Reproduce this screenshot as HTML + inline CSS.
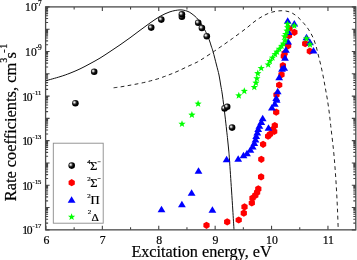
<!DOCTYPE html><html><head><meta charset="utf-8"><style>html,body{margin:0;padding:0;background:#fff;}svg{display:block;will-change:transform;}text{font-family:"Liberation Serif",serif;fill:#000;stroke:#000;stroke-width:0.2px;}</style></head><body>
<svg width="357" height="260" viewBox="0 0 357 260">
<defs><radialGradient id="bg" cx="0.4" cy="0.4" r="0.62" fx="0.33" fy="0.36"><stop offset="0" stop-color="#fff"/><stop offset="0.16" stop-color="#d0d0d0"/><stop offset="0.45" stop-color="#2a2a2a"/><stop offset="0.7" stop-color="#000"/></radialGradient></defs>
<path d="M45.95 229.85V225.85M45.95 6.9V10.9M102.35 229.85V225.85M102.35 6.9V10.9M158.75 229.85V225.85M158.75 6.9V10.9M215.15 229.85V225.85M215.15 6.9V10.9M271.55 229.85V225.85M271.55 6.9V10.9M327.95 229.85V225.85M327.95 6.9V10.9M74.15 229.85V227.35M74.15 6.9V9.4M130.55 229.85V227.35M130.55 6.9V9.4M186.95 229.85V227.35M186.95 6.9V9.4M243.35 229.85V227.35M243.35 6.9V9.4M299.75 229.85V227.35M299.75 6.9V9.4M45.6 6.90H49.6M355.8 6.90H351.8M45.6 22.48H48.1M355.8 22.48H353.3M45.6 18.56H48.1M355.8 18.56H353.3M45.6 15.77H48.1M355.8 15.77H353.3M45.6 13.61H48.1M355.8 13.61H353.3M45.6 11.85H48.1M355.8 11.85H353.3M45.6 10.35H48.1M355.8 10.35H353.3M45.6 9.06H48.1M355.8 9.06H353.3M45.6 7.92H48.1M355.8 7.92H353.3M45.6 29.20H49.6M355.8 29.20H351.8M45.6 44.78H48.1M355.8 44.78H353.3M45.6 40.85H48.1M355.8 40.85H353.3M45.6 38.07H48.1M355.8 38.07H353.3M45.6 35.91H48.1M355.8 35.91H353.3M45.6 34.14H48.1M355.8 34.14H353.3M45.6 32.65H48.1M355.8 32.65H353.3M45.6 31.36H48.1M355.8 31.36H353.3M45.6 30.22H48.1M355.8 30.22H353.3M45.6 51.49H49.6M355.8 51.49H351.8M45.6 67.07H48.1M355.8 67.07H353.3M45.6 63.15H48.1M355.8 63.15H353.3M45.6 60.36H48.1M355.8 60.36H353.3M45.6 58.20H48.1M355.8 58.20H353.3M45.6 56.44H48.1M355.8 56.44H353.3M45.6 54.94H48.1M355.8 54.94H353.3M45.6 53.65H48.1M355.8 53.65H353.3M45.6 52.51H48.1M355.8 52.51H353.3M45.6 73.78H49.6M355.8 73.78H351.8M45.6 89.37H48.1M355.8 89.37H353.3M45.6 85.44H48.1M355.8 85.44H353.3M45.6 82.66H48.1M355.8 82.66H353.3M45.6 80.50H48.1M355.8 80.50H353.3M45.6 78.73H48.1M355.8 78.73H353.3M45.6 77.24H48.1M355.8 77.24H353.3M45.6 75.95H48.1M355.8 75.95H353.3M45.6 74.81H48.1M355.8 74.81H353.3M45.6 96.08H49.6M355.8 96.08H351.8M45.6 111.66H48.1M355.8 111.66H353.3M45.6 107.74H48.1M355.8 107.74H353.3M45.6 104.95H48.1M355.8 104.95H353.3M45.6 102.79H48.1M355.8 102.79H353.3M45.6 101.03H48.1M355.8 101.03H353.3M45.6 99.53H48.1M355.8 99.53H353.3M45.6 98.24H48.1M355.8 98.24H353.3M45.6 97.10H48.1M355.8 97.10H353.3M45.6 118.38H49.6M355.8 118.38H351.8M45.6 133.96H48.1M355.8 133.96H353.3M45.6 130.03H48.1M355.8 130.03H353.3M45.6 127.25H48.1M355.8 127.25H353.3M45.6 125.09H48.1M355.8 125.09H353.3M45.6 123.32H48.1M355.8 123.32H353.3M45.6 121.83H48.1M355.8 121.83H353.3M45.6 120.54H48.1M355.8 120.54H353.3M45.6 119.40H48.1M355.8 119.40H353.3M45.6 140.67H49.6M355.8 140.67H351.8M45.6 156.25H48.1M355.8 156.25H353.3M45.6 152.33H48.1M355.8 152.33H353.3M45.6 149.54H48.1M355.8 149.54H353.3M45.6 147.38H48.1M355.8 147.38H353.3M45.6 145.62H48.1M355.8 145.62H353.3M45.6 144.12H48.1M355.8 144.12H353.3M45.6 142.83H48.1M355.8 142.83H353.3M45.6 141.69H48.1M355.8 141.69H353.3M45.6 162.97H49.6M355.8 162.97H351.8M45.6 178.55H48.1M355.8 178.55H353.3M45.6 174.62H48.1M355.8 174.62H353.3M45.6 171.84H48.1M355.8 171.84H353.3M45.6 169.68H48.1M355.8 169.68H353.3M45.6 167.91H48.1M355.8 167.91H353.3M45.6 166.42H48.1M355.8 166.42H353.3M45.6 165.13H48.1M355.8 165.13H353.3M45.6 163.99H48.1M355.8 163.99H353.3M45.6 185.26H49.6M355.8 185.26H351.8M45.6 200.84H48.1M355.8 200.84H353.3M45.6 196.92H48.1M355.8 196.92H353.3M45.6 194.13H48.1M355.8 194.13H353.3M45.6 191.97H48.1M355.8 191.97H353.3M45.6 190.21H48.1M355.8 190.21H353.3M45.6 188.71H48.1M355.8 188.71H353.3M45.6 187.42H48.1M355.8 187.42H353.3M45.6 186.28H48.1M355.8 186.28H353.3M45.6 207.55H49.6M355.8 207.55H351.8M45.6 223.14H48.1M355.8 223.14H353.3M45.6 219.21H48.1M355.8 219.21H353.3M45.6 216.43H48.1M355.8 216.43H353.3M45.6 214.27H48.1M355.8 214.27H353.3M45.6 212.50H48.1M355.8 212.50H353.3M45.6 211.01H48.1M355.8 211.01H353.3M45.6 209.72H48.1M355.8 209.72H353.3M45.6 208.58H48.1M355.8 208.58H353.3M45.6 229.85H49.6M355.8 229.85H351.8" stroke="#444" stroke-width="1.1" fill="none"/>
<path d="M45.90 80.70C48.25 80.03 55.98 77.95 60.00 76.70C64.02 75.45 66.67 74.50 70.00 73.20C73.33 71.90 76.67 70.48 80.00 68.90C83.33 67.32 86.67 65.50 90.00 63.70C93.33 61.90 96.67 60.12 100.00 58.10C103.33 56.08 106.67 53.80 110.00 51.60C113.33 49.40 116.67 47.20 120.00 44.90C123.33 42.60 126.67 40.23 130.00 37.80C133.33 35.37 136.67 32.77 140.00 30.30C143.33 27.83 146.67 25.32 150.00 23.00C153.33 20.68 156.67 18.27 160.00 16.40C163.33 14.53 166.67 12.88 170.00 11.80C173.33 10.72 177.17 10.02 180.00 9.90C182.83 9.78 185.17 10.55 187.00 11.10C188.83 11.65 189.67 12.33 191.00 13.20C192.33 14.07 193.83 15.27 195.00 16.30C196.17 17.33 197.00 18.22 198.00 19.40C199.00 20.58 199.75 21.42 201.00 23.40C202.25 25.38 204.13 28.57 205.50 31.30C206.87 34.03 208.25 37.35 209.20 39.80C210.15 42.25 210.55 44.00 211.20 46.00C211.85 48.00 212.22 48.63 213.10 51.80C213.98 54.97 215.52 61.13 216.50 65.00C217.48 68.87 218.30 71.67 219.00 75.00C219.70 78.33 220.13 81.67 220.70 85.00C221.27 88.33 221.70 90.00 222.40 95.00C223.10 100.00 224.20 109.17 224.90 115.00C225.60 120.83 226.13 125.83 226.60 130.00C227.07 134.17 227.35 136.67 227.70 140.00C228.05 143.33 228.40 146.67 228.70 150.00C229.00 153.33 229.03 153.33 229.50 160.00C229.97 166.67 230.95 181.67 231.50 190.00C232.05 198.33 232.38 203.36 232.80 210.00C233.22 216.64 233.80 226.54 234.00 229.85" stroke="#111" stroke-width="1" fill="none"/>
<path d="M113.60 87.80C114.75 87.65 118.20 87.25 120.50 86.90C122.80 86.55 125.05 86.12 127.40 85.70C129.75 85.28 131.97 84.90 134.60 84.40C137.23 83.90 140.57 83.28 143.20 82.70C145.83 82.12 148.05 81.52 150.40 80.90C152.75 80.28 155.00 79.72 157.30 79.00C159.60 78.28 161.90 77.43 164.20 76.60C166.50 75.77 168.80 74.92 171.10 74.00C173.40 73.08 175.35 72.30 178.00 71.10C180.65 69.90 183.78 68.32 187.00 66.80C190.22 65.28 194.30 63.58 197.30 62.00C200.30 60.42 202.40 58.95 205.00 57.30C207.60 55.65 210.65 53.60 212.90 52.10C215.15 50.60 215.27 50.55 218.50 48.30C221.73 46.05 227.70 41.92 232.30 38.60C236.90 35.28 242.32 31.30 246.10 28.40C249.88 25.50 252.12 23.30 255.00 21.20C257.88 19.10 260.60 17.30 263.40 15.80C266.20 14.30 268.72 13.05 271.80 12.20C274.88 11.35 278.82 10.70 281.90 10.70C284.98 10.70 287.78 11.25 290.30 12.20C292.82 13.15 294.77 14.57 297.00 16.40C299.23 18.23 301.73 20.95 303.70 23.20C305.67 25.45 307.25 27.52 308.80 29.90C310.35 32.28 311.80 34.82 313.00 37.50C314.20 40.18 315.08 42.92 316.00 46.00C316.92 49.08 317.67 52.67 318.50 56.00C319.33 59.33 320.17 62.33 321.00 66.00C321.83 69.67 322.75 74.17 323.50 78.00C324.25 81.83 324.85 85.38 325.50 89.00C326.15 92.62 326.75 95.57 327.40 99.70C328.05 103.83 328.82 109.20 329.40 113.80C329.98 118.40 330.22 121.27 330.90 127.30C331.58 133.33 332.78 142.88 333.50 150.00C334.22 157.12 334.70 163.33 335.20 170.00C335.70 176.67 336.12 183.33 336.50 190.00C336.88 196.67 337.22 203.50 337.50 210.00C337.78 216.50 338.08 225.83 338.20 229.00" stroke="#222" stroke-width="1" fill="none" stroke-dasharray="3.8 3.3"/>
<circle cx="75.4" cy="103.2" r="3.3" fill="url(#bg)"/>
<circle cx="94.2" cy="71.8" r="3.3" fill="url(#bg)"/>
<circle cx="151.2" cy="27.6" r="3.3" fill="url(#bg)"/>
<circle cx="161.3" cy="19.6" r="3.3" fill="url(#bg)"/>
<circle cx="181.9" cy="16.8" r="3.3" fill="url(#bg)"/>
<circle cx="181.9" cy="14.3" r="3.3" fill="url(#bg)"/>
<circle cx="198.2" cy="22.7" r="3.3" fill="url(#bg)"/>
<circle cx="201.9" cy="28" r="3.3" fill="url(#bg)"/>
<circle cx="206.8" cy="36.2" r="3.3" fill="url(#bg)"/>
<circle cx="224.6" cy="108.4" r="3.3" fill="url(#bg)"/>
<circle cx="227.2" cy="106.8" r="3.3" fill="url(#bg)"/>
<circle cx="232.1" cy="127.6" r="3.3" fill="url(#bg)"/>
<polygon points="206.50,228.90 203.38,227.10 203.38,223.50 206.50,221.70 209.62,223.50 209.62,227.10" fill="#f00"/>
<polygon points="227.20,225.50 224.08,223.70 224.08,220.10 227.20,218.30 230.32,220.10 230.32,223.70" fill="#f00"/>
<polygon points="238.70,223.60 235.58,221.80 235.58,218.20 238.70,216.40 241.82,218.20 241.82,221.80" fill="#f00"/>
<polygon points="243.80,216.70 240.68,214.90 240.68,211.30 243.80,209.50 246.92,211.30 246.92,214.90" fill="#f00"/>
<polygon points="244.50,210.50 241.38,208.70 241.38,205.10 244.50,203.30 247.62,205.10 247.62,208.70" fill="#f00"/>
<polygon points="251.80,206.60 248.68,204.80 248.68,201.20 251.80,199.40 254.92,201.20 254.92,204.80" fill="#f00"/>
<polygon points="252.50,201.70 249.38,199.90 249.38,196.30 252.50,194.50 255.62,196.30 255.62,199.90" fill="#f00"/>
<polygon points="255.30,199.00 252.18,197.20 252.18,193.60 255.30,191.80 258.42,193.60 258.42,197.20" fill="#f00"/>
<polygon points="257.10,196.00 253.98,194.20 253.98,190.60 257.10,188.80 260.22,190.60 260.22,194.20" fill="#f00"/>
<polygon points="258.30,192.50 255.18,190.70 255.18,187.10 258.30,185.30 261.42,187.10 261.42,190.70" fill="#f00"/>
<polygon points="261.10,180.50 257.98,178.70 257.98,175.10 261.10,173.30 264.22,175.10 264.22,178.70" fill="#f00"/>
<polygon points="261.30,162.90 258.18,161.10 258.18,157.50 261.30,155.70 264.42,157.50 264.42,161.10" fill="#f00"/>
<polygon points="263.10,147.90 259.98,146.10 259.98,142.50 263.10,140.70 266.22,142.50 266.22,146.10" fill="#f00"/>
<polygon points="268.10,139.80 264.98,138.00 264.98,134.40 268.10,132.60 271.22,134.40 271.22,138.00" fill="#f00"/>
<polygon points="270.00,137.80 266.88,136.00 266.88,132.40 270.00,130.60 273.12,132.40 273.12,136.00" fill="#f00"/>
<polygon points="272.90,133.00 269.78,131.20 269.78,127.60 272.90,125.80 276.02,127.60 276.02,131.20" fill="#f00"/>
<polygon points="274.20,135.10 271.08,133.30 271.08,129.70 274.20,127.90 277.32,129.70 277.32,133.30" fill="#f00"/>
<polygon points="274.80,129.20 271.68,127.40 271.68,123.80 274.80,122.00 277.92,123.80 277.92,127.40" fill="#f00"/>
<polygon points="276.20,115.70 273.08,113.90 273.08,110.30 276.20,108.50 279.32,110.30 279.32,113.90" fill="#f00"/>
<polygon points="276.50,98.40 273.38,96.60 273.38,93.00 276.50,91.20 279.62,93.00 279.62,96.60" fill="#f00"/>
<polygon points="279.20,88.60 276.08,86.80 276.08,83.20 279.20,81.40 282.32,83.20 282.32,86.80" fill="#f00"/>
<polygon points="281.50,78.20 278.38,76.40 278.38,72.80 281.50,71.00 284.62,72.80 284.62,76.40" fill="#f00"/>
<polygon points="282.90,69.20 279.78,67.40 279.78,63.80 282.90,62.00 286.02,63.80 286.02,67.40" fill="#f00"/>
<polygon points="283.80,59.80 280.68,58.00 280.68,54.40 283.80,52.60 286.92,54.40 286.92,58.00" fill="#f00"/>
<polygon points="284.60,56.90 281.48,55.10 281.48,51.50 284.60,49.70 287.72,51.50 287.72,55.10" fill="#f00"/>
<polygon points="288.10,49.40 284.98,47.60 284.98,44.00 288.10,42.20 291.22,44.00 291.22,47.60" fill="#f00"/>
<polygon points="289.00,39.30 285.88,37.50 285.88,33.90 289.00,32.10 292.12,33.90 292.12,37.50" fill="#f00"/>
<polygon points="289.50,32.10 286.38,30.30 286.38,26.70 289.50,24.90 292.62,26.70 292.62,30.30" fill="#f00"/>
<polygon points="294.40,35.90 291.28,34.10 291.28,30.50 294.40,28.70 297.52,30.50 297.52,34.10" fill="#f00"/>
<polygon points="305.20,47.20 302.08,45.40 302.08,41.80 305.20,40.00 308.32,41.80 308.32,45.40" fill="#f00"/>
<polygon points="309.80,54.80 306.68,53.00 306.68,49.40 309.80,47.60 312.92,49.40 312.92,53.00" fill="#f00"/>
<polygon points="161.50,205.85 165.40,212.35 157.60,212.35" fill="#00f"/>
<polygon points="181.90,200.75 185.80,207.25 178.00,207.25" fill="#00f"/>
<polygon points="191.60,189.25 195.50,195.75 187.70,195.75" fill="#00f"/>
<polygon points="198.50,167.25 202.40,173.75 194.60,173.75" fill="#00f"/>
<polygon points="212.40,206.35 216.30,212.85 208.50,212.85" fill="#00f"/>
<polygon points="226.60,155.75 230.50,162.25 222.70,162.25" fill="#00f"/>
<polygon points="238.20,155.35 242.10,161.85 234.30,161.85" fill="#00f"/>
<polygon points="243.50,151.75 247.40,158.25 239.60,158.25" fill="#00f"/>
<polygon points="247.00,149.85 250.90,156.35 243.10,156.35" fill="#00f"/>
<polygon points="250.40,146.35 254.30,152.85 246.50,152.85" fill="#00f"/>
<polygon points="252.70,142.95 256.60,149.45 248.80,149.45" fill="#00f"/>
<polygon points="254.30,139.45 258.20,145.95 250.40,145.95" fill="#00f"/>
<polygon points="255.50,135.95 259.40,142.45 251.60,142.45" fill="#00f"/>
<polygon points="256.20,132.55 260.10,139.05 252.30,139.05" fill="#00f"/>
<polygon points="257.30,129.05 261.20,135.55 253.40,135.55" fill="#00f"/>
<polygon points="258.20,125.55 262.10,132.05 254.30,132.05" fill="#00f"/>
<polygon points="259.40,122.35 263.30,128.85 255.50,128.85" fill="#00f"/>
<polygon points="261.30,118.45 265.20,124.95 257.40,124.95" fill="#00f"/>
<polygon points="262.70,114.65 266.60,121.15 258.80,121.15" fill="#00f"/>
<polygon points="268.50,124.25 272.40,130.75 264.60,130.75" fill="#00f"/>
<polygon points="271.90,104.05 275.80,110.55 268.00,110.55" fill="#00f"/>
<polygon points="274.80,100.25 278.70,106.75 270.90,106.75" fill="#00f"/>
<polygon points="276.70,96.35 280.60,102.85 272.80,102.85" fill="#00f"/>
<polygon points="276.20,94.45 280.10,100.95 272.30,100.95" fill="#00f"/>
<polygon points="277.70,87.75 281.60,94.25 273.80,94.25" fill="#00f"/>
<polygon points="279.20,73.65 283.10,80.15 275.30,80.15" fill="#00f"/>
<polygon points="282.00,65.35 285.90,71.85 278.10,71.85" fill="#00f"/>
<polygon points="284.20,64.35 288.10,70.85 280.30,70.85" fill="#00f"/>
<polygon points="285.00,54.25 288.90,60.75 281.10,60.75" fill="#00f"/>
<polygon points="285.90,46.35 289.80,52.85 282.00,52.85" fill="#00f"/>
<polygon points="288.10,37.95 292.00,44.45 284.20,44.45" fill="#00f"/>
<polygon points="288.60,28.55 292.50,35.05 284.70,35.05" fill="#00f"/>
<polygon points="287.70,17.25 291.60,23.75 283.80,23.75" fill="#00f"/>
<polygon points="294.30,19.95 298.20,26.45 290.40,26.45" fill="#00f"/>
<polygon points="306.50,33.75 310.40,40.25 302.60,40.25" fill="#00f"/>
<polygon points="310.00,38.75 313.90,45.25 306.10,45.25" fill="#00f"/>
<polygon points="313.50,47.05 317.40,53.55 309.60,53.55" fill="#00f"/>
<polygon points="182.00,120.20 182.94,122.71 185.61,122.83 183.52,124.49 184.23,127.07 182.00,125.60 179.77,127.07 180.48,124.49 178.39,122.83 181.06,122.71" fill="#0f0"/>
<polygon points="191.90,111.10 192.84,113.61 195.51,113.73 193.42,115.39 194.13,117.97 191.90,116.50 189.67,117.97 190.38,115.39 188.29,113.73 190.96,113.61" fill="#0f0"/>
<polygon points="198.10,100.00 199.04,102.51 201.71,102.63 199.62,104.29 200.33,106.87 198.10,105.40 195.87,106.87 196.58,104.29 194.49,102.63 197.16,102.51" fill="#0f0"/>
<polygon points="238.80,91.80 239.74,94.31 242.41,94.43 240.32,96.09 241.03,98.67 238.80,97.20 236.57,98.67 237.28,96.09 235.19,94.43 237.86,94.31" fill="#0f0"/>
<polygon points="244.30,87.30 245.24,89.81 247.91,89.93 245.82,91.59 246.53,94.17 244.30,92.70 242.07,94.17 242.78,91.59 240.69,89.93 243.36,89.81" fill="#0f0"/>
<polygon points="254.30,83.40 255.24,85.91 257.91,86.03 255.82,87.69 256.53,90.27 254.30,88.80 252.07,90.27 252.78,87.69 250.69,86.03 253.36,85.91" fill="#0f0"/>
<polygon points="256.00,79.10 256.94,81.61 259.61,81.73 257.52,83.39 258.23,85.97 256.00,84.50 253.77,85.97 254.48,83.39 252.39,81.73 255.06,81.61" fill="#0f0"/>
<polygon points="256.90,74.70 257.84,77.21 260.51,77.33 258.42,78.99 259.13,81.57 256.90,80.10 254.67,81.57 255.38,78.99 253.29,77.33 255.96,77.21" fill="#0f0"/>
<polygon points="257.80,69.60 258.74,72.11 261.41,72.23 259.32,73.89 260.03,76.47 257.80,75.00 255.57,76.47 256.28,73.89 254.19,72.23 256.86,72.11" fill="#0f0"/>
<polygon points="261.20,64.40 262.14,66.91 264.81,67.03 262.72,68.69 263.43,71.27 261.20,69.80 258.97,71.27 259.68,68.69 257.59,67.03 260.26,66.91" fill="#0f0"/>
<polygon points="268.20,60.90 269.14,63.41 271.81,63.53 269.72,65.19 270.43,67.77 268.20,66.30 265.97,67.77 266.68,65.19 264.59,63.53 267.26,63.41" fill="#0f0"/>
<polygon points="269.90,57.40 270.84,59.91 273.51,60.03 271.42,61.69 272.13,64.27 269.90,62.80 267.67,64.27 268.38,61.69 266.29,60.03 268.96,59.91" fill="#0f0"/>
<polygon points="272.50,54.00 273.44,56.51 276.11,56.63 274.02,58.29 274.73,60.87 272.50,59.40 270.27,60.87 270.98,58.29 268.89,56.63 271.56,56.51" fill="#0f0"/>
<polygon points="275.10,50.50 276.04,53.01 278.71,53.13 276.62,54.79 277.33,57.37 275.10,55.90 272.87,57.37 273.58,54.79 271.49,53.13 274.16,53.01" fill="#0f0"/>
<polygon points="277.00,48.10 277.94,50.61 280.61,50.73 278.52,52.39 279.23,54.97 277.00,53.50 274.77,54.97 275.48,52.39 273.39,50.73 276.06,50.61" fill="#0f0"/>
<polygon points="279.30,45.20 280.24,47.71 282.91,47.83 280.82,49.49 281.53,52.07 279.30,50.60 277.07,52.07 277.78,49.49 275.69,47.83 278.36,47.71" fill="#0f0"/>
<polygon points="281.60,42.30 282.54,44.81 285.21,44.93 283.12,46.59 283.83,49.17 281.60,47.70 279.37,49.17 280.08,46.59 277.99,44.93 280.66,44.81" fill="#0f0"/>
<polygon points="283.30,40.00 284.24,42.51 286.91,42.63 284.82,44.29 285.53,46.87 283.30,45.40 281.07,46.87 281.78,44.29 279.69,42.63 282.36,42.51" fill="#0f0"/>
<polygon points="285.10,36.70 286.04,39.21 288.71,39.33 286.62,40.99 287.33,43.57 285.10,42.10 282.87,43.57 283.58,40.99 281.49,39.33 284.16,39.21" fill="#0f0"/>
<polygon points="284.60,32.80 285.54,35.31 288.21,35.43 286.12,37.09 286.83,39.67 284.60,38.20 282.37,39.67 283.08,37.09 280.99,35.43 283.66,35.31" fill="#0f0"/>
<polygon points="285.70,30.40 286.64,32.91 289.31,33.03 287.22,34.69 287.93,37.27 285.70,35.80 283.47,37.27 284.18,34.69 282.09,33.03 284.76,32.91" fill="#0f0"/>
<polygon points="287.00,27.10 287.94,29.61 290.61,29.73 288.52,31.39 289.23,33.97 287.00,32.50 284.77,33.97 285.48,31.39 283.39,29.73 286.06,29.61" fill="#0f0"/>
<polygon points="287.60,23.70 288.54,26.21 291.21,26.33 289.12,27.99 289.83,30.57 287.60,29.10 285.37,30.57 286.08,27.99 283.99,26.33 286.66,26.21" fill="#0f0"/>
<polygon points="287.60,20.30 288.54,22.81 291.21,22.93 289.12,24.59 289.83,27.17 287.60,25.70 285.37,27.17 286.08,24.59 283.99,22.93 286.66,22.81" fill="#0f0"/>
<polygon points="294.30,22.00 295.24,24.51 297.91,24.63 295.82,26.29 296.53,28.87 294.30,27.40 292.07,28.87 292.78,26.29 290.69,24.63 293.36,24.51" fill="#0f0"/>
<polygon points="306.50,34.80 307.44,37.31 310.11,37.43 308.02,39.09 308.73,41.67 306.50,40.20 304.27,41.67 304.98,39.09 302.89,37.43 305.56,37.31" fill="#0f0"/>
<polygon points="310.00,40.80 310.94,43.31 313.61,43.43 311.52,45.09 312.23,47.67 310.00,46.20 307.77,47.67 308.48,45.09 306.39,43.43 309.06,43.31" fill="#0f0"/>
<rect x="45.6" y="6.9" width="310.20" height="222.95" fill="none" stroke="#4a4a4a" stroke-width="1.3"/>
<rect x="53.3" y="143.2" width="49.9" height="80.0" fill="#fff" stroke="#8a8a8a" stroke-width="0.9"/>
<circle cx="71.7" cy="165.6" r="3.3" fill="url(#bg)"/>
<polygon points="71.70,186.30 68.58,184.50 68.58,180.90 71.70,179.10 74.82,180.90 74.82,184.50" fill="#f00"/>
<polygon points="71.60,196.25 75.50,202.75 67.70,202.75" fill="#00f"/>
<polygon points="71.60,213.20 72.54,215.71 75.21,215.83 73.12,217.49 73.83,220.07 71.60,218.60 69.37,220.07 70.08,217.49 67.99,215.83 70.66,215.71" fill="#0f0"/>
<text x="88.9" y="164.10" font-size="6.9" text-anchor="middle">4</text><text x="90.0" y="170.0" font-size="12.6">Σ</text><rect x="97.6" y="161.40" width="3.0" height="0.75" fill="#333"/>
<text x="88.9" y="180.80" font-size="6.9" text-anchor="middle">2</text><text x="90.3" y="186.7" font-size="12.6">Σ</text><rect x="97.6" y="178.10" width="3.0" height="0.75" fill="#333"/>
<text x="88.9" y="198.30" font-size="6.9" text-anchor="middle">2</text><text x="90.5" y="204.2" font-size="12.6">Π</text>
<text x="89.4" y="214.00" font-size="6.9" text-anchor="middle">2</text><text x="91.4" y="221.0" font-size="11.4">Δ</text>
<text x="46.35" y="243.5" font-size="11.8" text-anchor="middle">6</text>
<text x="102.75" y="243.5" font-size="11.8" text-anchor="middle">7</text>
<text x="159.15" y="243.5" font-size="11.8" text-anchor="middle">8</text>
<text x="215.55" y="243.5" font-size="11.8" text-anchor="middle">9</text>
<text x="271.95" y="243.5" font-size="11.8" text-anchor="middle">10</text>
<text x="328.35" y="243.5" font-size="11.8" text-anchor="middle">11</text>
<text x="27.8" y="11.40" font-size="11.6" text-anchor="middle">1</text>
<text x="33.8" y="11.40" font-size="11.6" text-anchor="middle">0</text>
<text x="37.0" y="5.50" font-size="7.4" text-anchor="middle">-</text>
<text x="39.9" y="5.50" font-size="7.4" text-anchor="middle">7</text>
<text x="27.8" y="55.99" font-size="11.6" text-anchor="middle">1</text>
<text x="33.8" y="55.99" font-size="11.6" text-anchor="middle">0</text>
<text x="37.0" y="50.09" font-size="7.4" text-anchor="middle">-</text>
<text x="39.9" y="50.09" font-size="7.4" text-anchor="middle">9</text>
<text x="25.1" y="100.58" font-size="11.6" text-anchor="middle">1</text>
<text x="29.6" y="100.58" font-size="11.6" text-anchor="middle">0</text>
<text x="33.6" y="94.68" font-size="6.6" text-anchor="middle">-</text>
<text x="36.6" y="94.68" font-size="6.6" text-anchor="middle">1</text>
<text x="39.6" y="94.68" font-size="6.6" text-anchor="middle">1</text>
<text x="25.1" y="145.17" font-size="11.6" text-anchor="middle">1</text>
<text x="29.6" y="145.17" font-size="11.6" text-anchor="middle">0</text>
<text x="33.6" y="139.27" font-size="6.6" text-anchor="middle">-</text>
<text x="36.6" y="139.27" font-size="6.6" text-anchor="middle">1</text>
<text x="39.6" y="139.27" font-size="6.6" text-anchor="middle">3</text>
<text x="25.1" y="189.76" font-size="11.6" text-anchor="middle">1</text>
<text x="29.6" y="189.76" font-size="11.6" text-anchor="middle">0</text>
<text x="33.6" y="183.86" font-size="6.6" text-anchor="middle">-</text>
<text x="36.6" y="183.86" font-size="6.6" text-anchor="middle">1</text>
<text x="39.6" y="183.86" font-size="6.6" text-anchor="middle">5</text>
<text x="25.1" y="234.35" font-size="11.6" text-anchor="middle">1</text>
<text x="29.6" y="234.35" font-size="11.6" text-anchor="middle">0</text>
<text x="33.6" y="228.45" font-size="6.6" text-anchor="middle">-</text>
<text x="36.6" y="228.45" font-size="6.6" text-anchor="middle">1</text>
<text x="39.6" y="228.45" font-size="6.6" text-anchor="middle">7</text>
<text x="131.4" y="256.6" font-size="16.2">Excitation energy, eV</text>
<text transform="translate(15.5 201.3) rotate(-90)" font-size="16.4">Rate coefficients, cm<tspan font-size="10" dy="-8.6">3</tspan><tspan dy="8.6" dx="-0.6">s</tspan><tspan font-size="10" dy="-8.6" dx="-0.8">-</tspan><tspan font-size="10" dx="0.6">1</tspan></text>
</svg></body></html>
